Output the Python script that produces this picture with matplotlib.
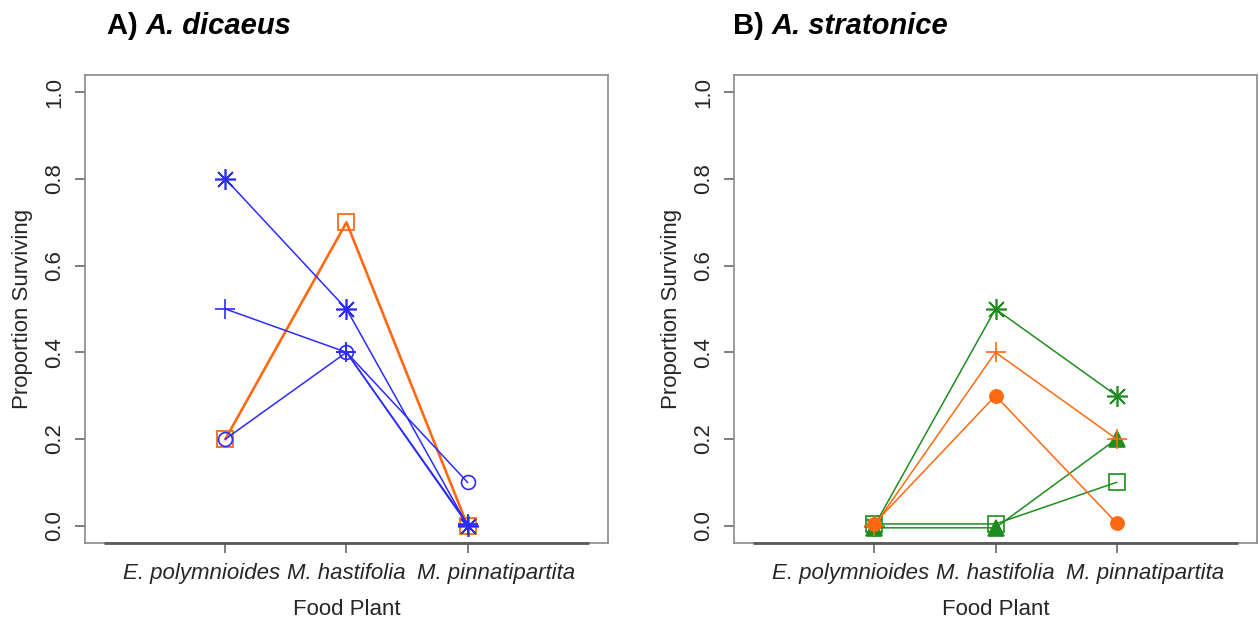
import numpy as np
import matplotlib
matplotlib.use("Agg")
import matplotlib.pyplot as plt
from matplotlib.transforms import ScaledTranslation

plt.rcParams['font.family'] = ['Liberation Sans', 'DejaVu Sans']

# ---- data ----
plants = ["E. polymnioides", "M. hastifolia", "M. pinnatipartita"]
yticks = [0.0, 0.2, 0.4, 0.6, 0.8, 1.0]
ytick_labels = ["0.0", "0.2", "0.4", "0.6", "0.8", "1.0"]

# Panel A: A. dicaeus
dic_orange_square = [0.2, 0.7, 0.0]
dic_blue_star = [0.8, 0.5, 0.0]
dic_blue_plus = [0.5, 0.4, 0.002]
dic_blue_circle = [0.2, 0.4, 0.1]
dic_blue_plus2 = [np.nan, 0.4, 0.005]

# Panel B: A. stratonice
str_green_star = [0.0, 0.5, 0.3]
str_orange_plus = [0.0, 0.4, 0.2]
str_orange_dot = [0.005, 0.3, 0.006]
str_green_triangle = [-0.005, -0.005, 0.2]
str_green_square = [0.004, 0.004, 0.1]

BLUE = '#2b2bff'
ORANGE = '#ff6a10'
GREEN = '#1f8c1f'
AX = '#5a5a5a'
TXT = '#262626'

W, H = 1259, 620
fig = plt.figure(figsize=(W / 100, H / 100), dpi=100)


def make_ax(left, right, top, bottom):
    return fig.add_axes([left / W, 1 - bottom / H, (right - left) / W, (bottom - top) / H])


axA = make_ax(85, 608, 75, 543)
axB = make_ax(734, 1257, 75, 543)

x = np.arange(len(plants))

STAR = (8, 2, 0)


def plot_series(ax, vals, color, marker, ms, lw, mfc=None, mew=1.2):
    ax.plot(x, vals, color=color, lw=lw, marker=marker, ms=ms,
            mfc=(mfc if mfc is not None else 'none'), mec=color, mew=mew, zorder=3)


# Panel A
plot_series(axA, dic_orange_square, ORANGE, 's', 11.5, 1.9, mew=1.3)
plot_series(axA, dic_blue_star, BLUE, STAR, 15, 1.1)
plot_series(axA, dic_blue_plus, BLUE, '+', 14, 1.1)
plot_series(axA, dic_blue_circle, BLUE, 'o', 10, 1.1)
plot_series(axA, dic_blue_plus2, BLUE, '+', 14, 1.1)

# Panel B
plot_series(axB, str_green_square, GREEN, 's', 11.5, 1.1)
plot_series(axB, str_green_triangle, GREEN, '^', 11.5, 1.1, mfc=GREEN)
plot_series(axB, str_green_star, GREEN, STAR, 15, 1.1)
plot_series(axB, str_orange_plus, ORANGE, '+', 14, 1.1)
plot_series(axB, str_orange_dot, ORANGE, 'o', 9.5, 1.1, mfc=ORANGE)

label_shift_px = [-24, 0, 28]

for ax in (axA, axB):
    ax.set_xlim(-1.16, 3.16)
    ax.set_ylim(-0.04, 1.04)
    for s in ax.spines.values():
        s.set_color('#8a8a8a')
        s.set_linewidth(1.2)
    # R-style x axis line from -1 to 3
    ax.plot([-1, 3], [-0.04, -0.04], color=AX, lw=2.0, clip_on=False, zorder=4,
            solid_capstyle='butt')
    ax.set_xticks(x)
    ax.set_xticklabels(plants, fontsize=16, style='italic', color=TXT)
    ax.set_yticks(yticks)
    ax.set_yticklabels(ytick_labels, fontsize=16, rotation=90, va='center', color=TXT)
    ax.tick_params(axis='both', direction='out', length=7, width=1.1, color=AX)
    ax.tick_params(axis='x', pad=7.5)
    ax.tick_params(axis='y', pad=7.5)
    for lab, dx in zip(ax.get_xticklabels(), label_shift_px):
        lab.set_transform(lab.get_transform() + ScaledTranslation(dx / 100, 0, fig.dpi_scale_trans))
    ax.set_xlabel("Food Plant", fontsize=16, color=TXT, labelpad=11)
    ax.set_ylabel("Proportion Surviving", fontsize=16, color=TXT, labelpad=8)

# Titles: bold prefix + bold italic species
fig.canvas.draw()
renderer = fig.canvas.get_renderer()
for xpix, pre, sp in [(107, "A) ", "A. dicaeus"), (733, "B) ", "A. stratonice")]:
    t1 = fig.text(xpix / W, 1 - 26 / H, pre, fontsize=21, fontweight='bold',
                  ha='left', va='center', color='black')
    bb = t1.get_window_extent(renderer=renderer)
    fig.text(bb.x1 / W, 1 - 26 / H, sp, fontsize=21, fontweight='bold',
             style='italic', ha='left', va='center', color='black')

fig.savefig("out.png", dpi=100)
